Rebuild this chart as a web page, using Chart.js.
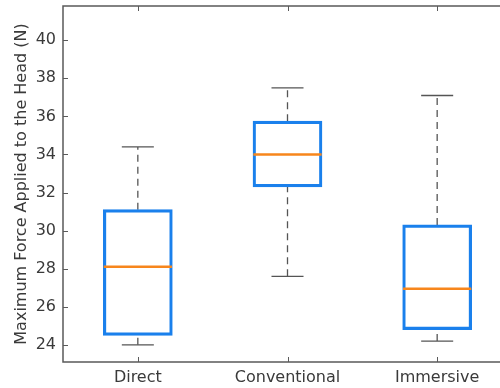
<!DOCTYPE html>
<html>
<head>
<meta charset="utf-8">
<script src="https://cdn.jsdelivr.net/npm/chart.js@4/dist/chart.umd.min.js"></script>
<style>
html,body{margin:0;padding:0;background:#fff;overflow:hidden;width:500px;height:388px;}
canvas{display:block;}
</style>
</head>
<body>
<canvas id="c" width="512" height="388"></canvas>
<script>
const categories = ['Direct', 'Conventional', 'Immersive'];
const whiskerLow = [24.0, 27.6, 24.2];
const q1 = [24.5, 32.3, 24.8];
const medians = [28.1, 34.0, 26.95];
const q3 = [31.1, 35.75, 30.3];
const whiskerHigh = [34.4, 37.5, 37.1];
const yTicks = [24, 26, 28, 30, 32, 34, 36, 38, 40];

const BOX_HALF = 0.228;
const CAP_HALF = 0.107;
const axisColor = '#5a5a5a';
const textColor = '#3a3a3a';

const boxData = categories.map((c, i) => ({x: i + 1, y: [q1[i], q3[i]]}));
const medData = [], whiskData = [], capData = [];
categories.forEach((c, i) => {
  const x = i + 1;
  medData.push({x: x - BOX_HALF, y: medians[i]}, {x: x + BOX_HALF, y: medians[i]}, {x: x, y: null});
  whiskData.push({x: x, y: q3[i]}, {x: x, y: whiskerHigh[i]}, {x: x, y: null});
  whiskData.push({x: x, y: whiskerLow[i]}, {x: x, y: q1[i]}, {x: x, y: null});
  capData.push({x: x - CAP_HALF, y: whiskerHigh[i]}, {x: x + CAP_HALF, y: whiskerHigh[i]}, {x: x, y: null});
  capData.push({x: x - CAP_HALF, y: whiskerLow[i]}, {x: x + CAP_HALF, y: whiskerLow[i]}, {x: x, y: null});
});

const framePlugin = {
  id: 'frame',
  afterDatasetsDraw(chart) {
    const {ctx, chartArea: a, scales} = chart;
    ctx.save();
    ctx.strokeStyle = axisColor;
    ctx.lineWidth = 1.5;
    ctx.beginPath();
    ctx.moveTo(a.right + 2, a.top); ctx.lineTo(a.left, a.top);
    ctx.lineTo(a.left, a.bottom); ctx.lineTo(a.right + 2, a.bottom);
    ctx.stroke();
    ctx.lineWidth = 1;
    ctx.beginPath();
    yTicks.forEach(v => {
      const y = Math.round(scales.y.getPixelForValue(v)) + 0.5;
      ctx.moveTo(a.left, y); ctx.lineTo(a.left + 5, y);
    });
    categories.forEach((c, i) => {
      const x = Math.round(scales.x.getPixelForValue(i + 1)) + 0.5;
      ctx.moveTo(x, a.bottom); ctx.lineTo(x, a.bottom - 5);
      ctx.moveTo(x, a.top); ctx.lineTo(x, a.top + 5);
    });
    ctx.stroke();
    ctx.restore();
  }
};

new Chart(document.getElementById('c'), {
  type: 'bar',
  data: {
    datasets: [
      {type: 'bar', data: boxData, backgroundColor: 'rgba(255,255,255,0)', borderColor: '#1a80ec',
       borderWidth: 2.5, borderSkipped: false, barThickness: 69, order: 1},
      {type: 'line', data: medData, borderColor: '#f7861c', borderWidth: 2.5, pointRadius: 0,
       spanGaps: false, fill: false, order: 0},
      {type: 'line', data: whiskData, borderColor: '#555555', borderWidth: 1.3, borderDash: [7, 5],
       pointRadius: 0, spanGaps: false, fill: false, order: 3},
      {type: 'line', data: capData, borderColor: '#555555', borderWidth: 1.3, pointRadius: 0,
       spanGaps: false, fill: false, order: 2}
    ]
  },
  options: {
    responsive: false,
    devicePixelRatio: 1,
    animation: false,
    layout: {padding: {top: 6, right: 0, left: 0, bottom: 0}},
    plugins: {legend: {display: false}, tooltip: {enabled: false}},
    scales: {
      x: {
        type: 'linear', min: 0.5, max: 3.5, offset: false,
        grid: {display: false, drawTicks: false, offset: false},
        border: {display: false},
        afterBuildTicks: s => { s.ticks = categories.map((c, i) => ({value: i + 1})); },
        afterFit: s => { s.height = 26; s.paddingLeft = 0; s.paddingRight = 0; },
        ticks: {
          callback: v => categories[v - 1],
          color: textColor, padding: 6, maxRotation: 0, autoSkip: false,
          font: {family: 'DejaVu Sans', size: 16}
        }
      },
      y: {
        type: 'linear', min: 23.1, max: 41.8,
        grid: {display: false, drawTicks: false},
        border: {display: false},
        afterBuildTicks: s => { s.ticks = yTicks.map(v => ({value: v})); },
        afterFit: s => { s.width = 63; s.paddingTop = 0; s.paddingBottom = 0; },
        ticks: {color: textColor, padding: 7, font: {family: 'DejaVu Sans', size: 16}},
        title: {display: true, text: 'Maximum Force Applied to the Head (N)', color: textColor,
                padding: {top: 12, bottom: 0}, font: {family: 'DejaVu Sans', size: 16}}
      }
    }
  },
  plugins: [framePlugin]
});
</script>
</body>
</html>
